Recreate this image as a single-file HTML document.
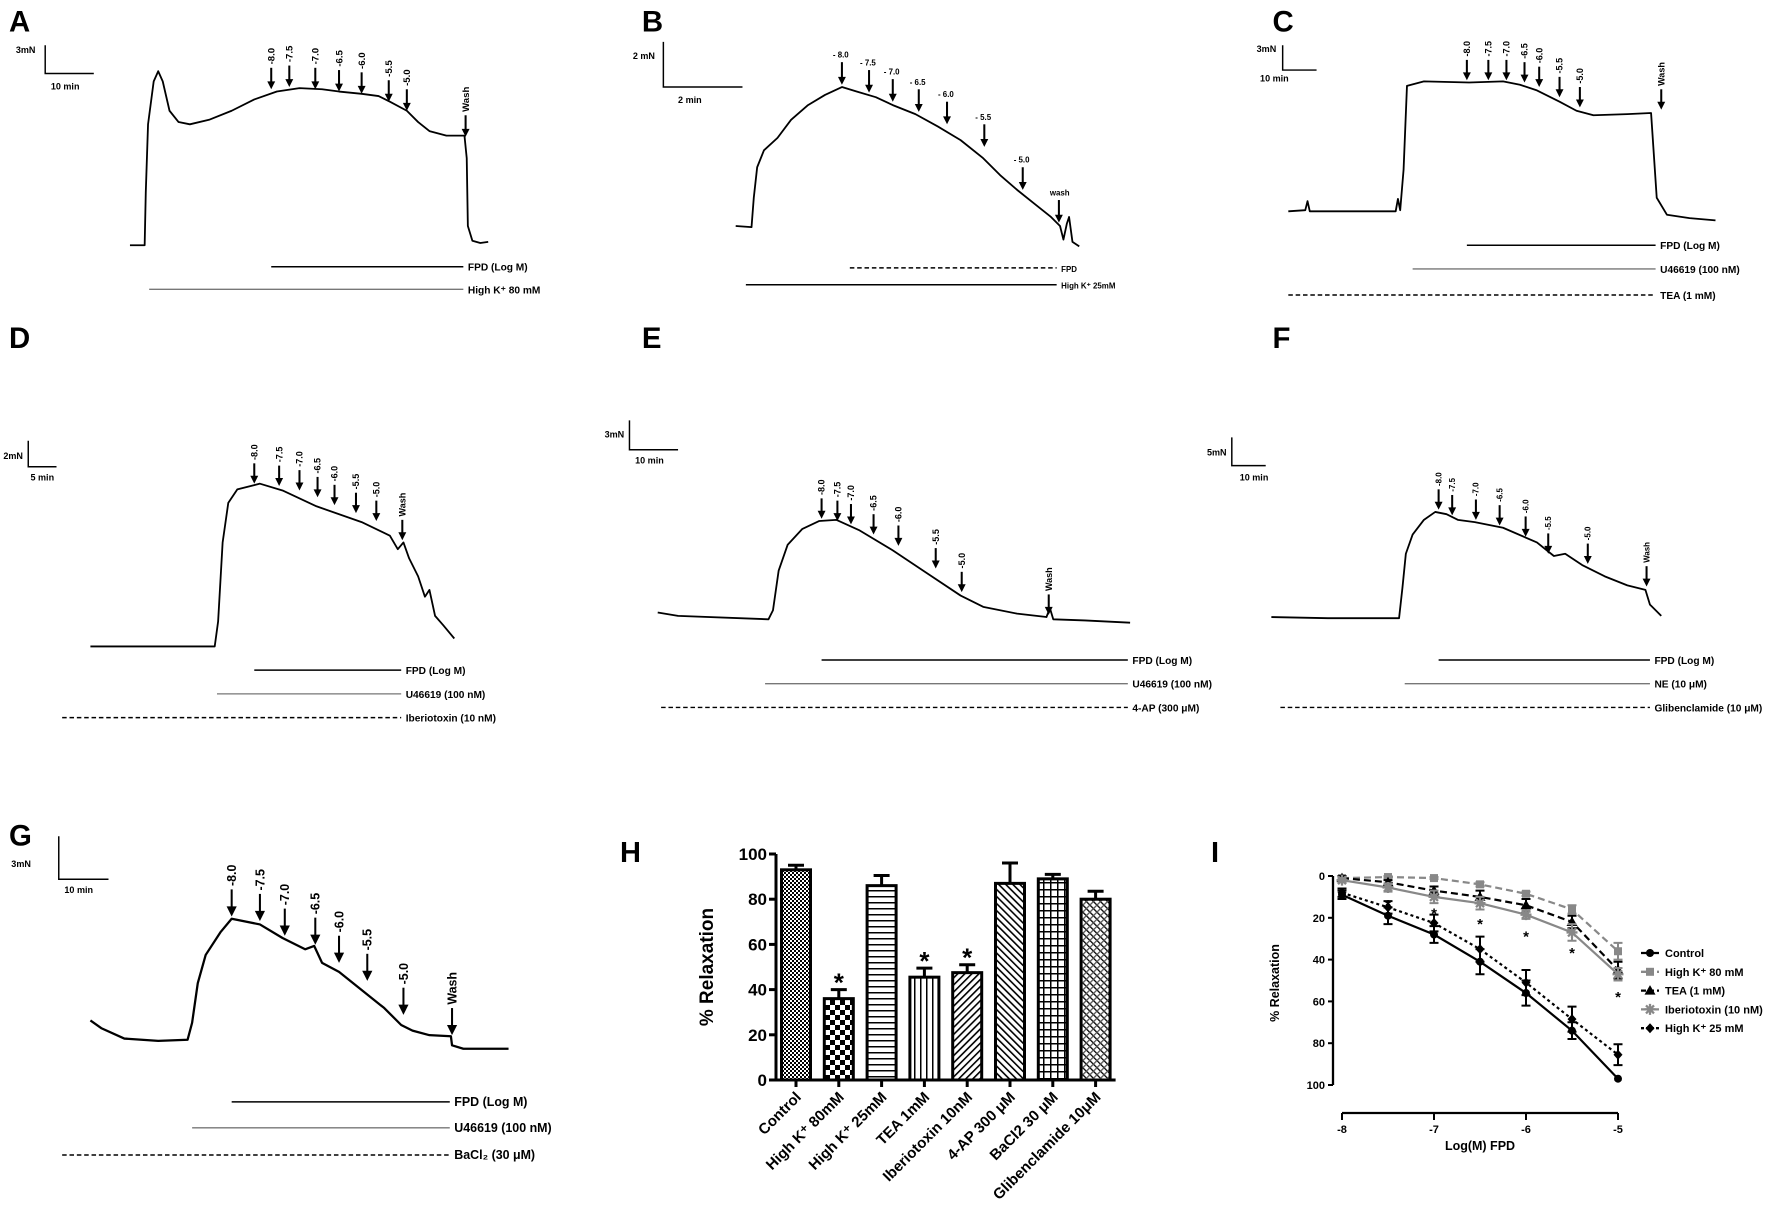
<!DOCTYPE html>
<html><head><meta charset="utf-8"><style>
html,body{margin:0;padding:0;background:#fff;}
svg{display:block;font-family:"Liberation Sans",Arial,sans-serif;font-weight:bold;}
</style></head><body>
<svg id="fig" width="1772" height="1220" viewBox="0 0 1772 1220" xmlns="http://www.w3.org/2000/svg">
<defs>
<pattern id="pCtrl" width="4" height="4" patternUnits="userSpaceOnUse"><rect width="4" height="4" fill="#fff"/><rect width="2" height="2" fill="#000"/><rect x="2" y="2" width="2" height="2" fill="#000"/></pattern>
<pattern id="pK80" width="10" height="10" patternUnits="userSpaceOnUse"><rect width="10" height="10" fill="#fff"/><rect width="5" height="5" fill="#000"/><rect x="5" y="5" width="5" height="5" fill="#000"/></pattern>
<pattern id="pK25" width="6" height="6" patternUnits="userSpaceOnUse"><rect width="6" height="6" fill="#fff"/><rect y="2" width="6" height="1.5" fill="#000"/></pattern>
<pattern id="pTEA" width="6" height="6" patternUnits="userSpaceOnUse"><rect width="6" height="6" fill="#fff"/><rect x="2" width="1.5" height="6" fill="#000"/></pattern>
<pattern id="pIbt" width="5" height="5" patternUnits="userSpaceOnUse" patternTransform="rotate(45)"><rect width="5" height="5" fill="#fff"/><rect width="1.6" height="5" fill="#000"/></pattern>
<pattern id="pAP" width="5" height="5" patternUnits="userSpaceOnUse" patternTransform="rotate(-45)"><rect width="5" height="5" fill="#fff"/><rect width="1.6" height="5" fill="#000"/></pattern>
<pattern id="pBa" width="7" height="7" patternUnits="userSpaceOnUse"><rect width="7" height="7" fill="#fff"/><rect width="1.5" height="7" fill="#000"/><rect width="7" height="1.5" fill="#000"/></pattern>
<pattern id="pGli" width="5" height="5" patternUnits="userSpaceOnUse" patternTransform="rotate(-45)"><rect width="5" height="5" fill="#fff"/><rect width="1.3" height="5" fill="#000"/><rect width="5" height="1.3" fill="#555"/></pattern>
</defs>
<g id="traces" transform="scale(1.1301)"></g>
<g id="panelH"></g>
<g id="panelI"></g>
</svg>
<script>
const NS="http://www.w3.org/2000/svg";
function mk(parent,tag,attrs,text){const e=document.createElementNS(NS,tag);for(const k in attrs)e.setAttribute(k,attrs[k]);if(text!==undefined)e.textContent=text;parent.appendChild(e);return e;}
const T=document.getElementById('traces');

const panels=[
{id:'A',lab:[8,28],bar:{x:40,y1:40,y2:65,x2:83,v:'3mN',h:'10 min',vx:14,vy:47,hx:45,hy:79},
 trace:[[115,217],[128,217],[129,170],[131,110],[136,72],[140,63],[144,72],[150,98],[158,108],[168,110],[185,106],[205,98],[225,88],[245,81],[265,78],[285,79],[300,81],[320,83],[335,85],[345,90],[360,98],[370,108],[380,116],[395,120],[411,120],[413,140],[414,200],[418,213],[425,215],[432,214]],
 arrows:[[240,79,'-8.0'],[256,77,'-7.5'],[279,79,'-7.0'],[300,81,'-6.5'],[320,83,'-6.0'],[344,90,'-5.5'],[360,98,'-5.0'],[412,121,'Wash']],alen:19,fs:8.5,
 lines:[[240,410,236,'k','FPD (Log M)'],[132,410,256,'g','High K⁺ 80 mM']]},
{id:'B',lab:[568,28],bar:{x:587,y1:37,y2:77,x2:657,v:'2 mN',h:'2 min',vx:560,vy:52,hx:600,hy:91},
 trace:[[651,200],[665,201],[667,175],[670,148],[676,133],[688,122],[700,106],[715,93],[730,84],[745,77],[758,81],[775,86],[790,93],[810,101],[830,112],[850,124],[870,140],[885,155],[900,168],[915,180],[930,192],[938,200],[941,212],[944,198],[946,192],[949,214],[955,218]],
 arrows:[[745,75,'- 8.0'],[769,82,'- 7.5'],[790,90,'- 7.0'],[813,99,'- 6.5'],[838,110,'- 6.0'],[871,130,'- 5.5'],[905,168,'- 5.0'],[937,197,'wash']],alen:20,fs:7,horiz:true,
 lines:[[752,935,237,'d','FPD'],[660,935,252,'k','High K⁺ 25mM']]},
{id:'C',lab:[1126,28],bar:{x:1135,y1:40,y2:62,x2:1165,v:'3mN',h:'10 min',vx:1112,vy:46,hx:1115,hy:72},
 trace:[[1140,187],[1155,186],[1157,178],[1159,187],[1235,187],[1237,176],[1239,186],[1242,150],[1245,76],[1260,72],[1300,73],[1330,72],[1345,75],[1360,80],[1380,90],[1395,98],[1410,102],[1440,101],[1461,100],[1463,130],[1466,175],[1475,190],[1495,193],[1518,195]],
 arrows:[[1298,71,'-8.0'],[1317,71,'-7.5'],[1333,71,'-7.0'],[1349,73,'-6.5'],[1362,77,'-6.0'],[1380,86,'-5.5'],[1398,95,'-5.0'],[1470,97,'Wash']],alen:18,fs:8,
 lines:[[1298,1465,217,'k','FPD (Log M)'],[1250,1465,238,'g','U46619 (100 nM)'],[1140,1465,261,'d','TEA (1 mM)']]},
{id:'D',lab:[8,308],bar:{x:25,y1:390,y2:413,x2:50,v:'2mN',h:'5 min',vx:3,vy:406,hx:27,hy:425},
 trace:[[80,572],[190,572],[193,550],[197,480],[202,445],[210,433],[230,428],[250,434],[280,448],[320,462],[345,474],[352,486],[357,480],[362,494],[370,510],[376,528],[380,522],[385,545],[392,553],[402,565]],
 arrows:[[225,428,'-8.0'],[247,430,'-7.5'],[265,434,'-7.0'],[281,440,'-6.5'],[296,447,'-6.0'],[315,454,'-5.5'],[333,461,'-5.0'],[356,478,'Wash']],alen:18,fs:8,
 lines:[[225,355,593,'k','FPD (Log M)'],[192,355,614,'g','U46619 (100 nM)'],[55,355,635,'d','Iberiotoxin (10 nM)']]},
{id:'E',lab:[568,308],bar:{x:557,y1:372,y2:398,x2:600,v:'3mN',h:'10 min',vx:535,vy:387,hx:562,hy:410},
 trace:[[582,542],[600,545],[680,548],[684,540],[689,505],[697,482],[710,468],[725,461],[740,460],[760,469],[790,487],[820,507],[850,527],[870,537],[900,543],[926,546],[929,538],[932,548],[960,549],[1000,551]],
 arrows:[[727,459,'-8.0'],[741,461,'-7.5'],[753,464,'-7.0'],[773,473,'-6.5'],[795,483,'-6.0'],[828,503,'-5.5'],[851,524,'-5.0'],[928,544,'Wash']],alen:18,fs:8,
 lines:[[727,998,584,'k','FPD (Log M)'],[677,998,605,'g','U46619 (100 nM)'],[585,998,626,'d','4-AP (300 μM)']]},
{id:'F',lab:[1126,308],bar:{x:1090,y1:387,y2:412,x2:1120,v:'5mN',h:'10 min',vx:1068,vy:403,hx:1097,hy:425},
 trace:[[1125,546],[1175,547],[1238,547],[1241,520],[1244,490],[1250,473],[1260,460],[1270,453],[1280,455],[1290,460],[1305,462],[1330,467],[1360,480],[1375,492],[1385,490],[1400,500],[1420,510],[1440,518],[1456,522],[1460,535],[1470,545]],
 arrows:[[1273,451,'-8.0'],[1285,456,'-7.5'],[1306,460,'-7.0'],[1327,465,'-6.5'],[1350,475,'-6.0'],[1370,490,'-5.5'],[1405,499,'-5.0'],[1457,519,'Wash']],alen:18,fs:7,
 lines:[[1273,1460,584,'k','FPD (Log M)'],[1243,1460,605,'g','NE (10 μM)'],[1133,1460,626,'d','Glibenclamide (10 μM)']]},
{id:'G',lab:[8,748],bar:{x:52,y1:740,y2:778,x2:96,v:'3mN',h:'10 min',vx:10,vy:767,hx:57,hy:790},
 trace:[[80,903],[90,910],[110,919],[140,921],[166,920],[170,905],[175,870],[182,845],[195,825],[205,813],[230,818],[250,830],[270,840],[278,837],[285,852],[300,860],[320,876],[340,892],[355,907],[365,912],[380,916],[399,917],[400,925],[410,928],[450,928]],
 arrows:[[205,811,'-8.0'],[230,815,'-7.5'],[252,828,'-7.0'],[279,836,'-6.5'],[300,852,'-6.0'],[325,868,'-5.5'],[357,898,'-5.0'],[400,916,'Wash']],alen:24,fs:11,
 lines:[[205,398,975,'k','FPD (Log M)'],[170,398,998,'g','U46619 (100 nM)'],[55,398,1022,'d','BaCl₂ (30 μM)']]}
];

panels.forEach(p=>{
  const g=mk(T,'g',{});
  
  
  const L=mk(g,'text',{x:p.lab[0],y:p.lab[1],'font-size':26},p.id);
  
  
  const b=p.bar;
  const sb=mk(g,'path',{d:`M${b.x},${b.y1}V${b.y2}H${b.x2}`,fill:'none',stroke:'#000','stroke-width':1.3});
  
  
  mk(g,'text',{x:b.vx,y:b.vy,'font-size':8},b.v);
  mk(g,'text',{x:b.hx,y:b.hy,'font-size':8},b.h);
  const tr=mk(g,'polyline',{points:p.trace.map(q=>q.join(',')).join(' '),fill:'none',stroke:'#000','stroke-width':p.id==='G'?2:1.6,'stroke-linejoin':'round'});
  
  
  p.arrows.forEach(a=>{
    const [x,tip,lab]=a, top=tip-p.alen;
    const ag=mk(g,'g',{});
    
    
    const hw=p.id==='G'?4.5:3.5, hl=p.id==='G'?9:7;
    mk(ag,'line',{x1:x,y1:top,x2:x,y2:tip-hl+1,stroke:'#000','stroke-width':1.8});
    mk(ag,'path',{d:`M${x-hw},${tip-hl}L${x+hw},${tip-hl}L${x},${tip}Z`,fill:'#000'});
    if(p.horiz){
      mk(ag,'text',{x:x-8,y:top-4,'font-size':p.fs},lab);
    }else{
      mk(ag,'text',{x:x+p.fs*0.35,y:top-3,'font-size':p.fs,transform:`rotate(-90 ${x+p.fs*0.35} ${top-3})`},lab);
    }
  });
  p.lines.forEach(l=>{
    const [x1,x2,y,st,lab]=l;
    const lg=mk(g,'g',{});
    
    
    const attrs={x1,x2,y1:y,y2:y,stroke:st==='g'?'#777':'#000','stroke-width':st==='g'?1.2:1.3};
    if(st==='d')attrs['stroke-dasharray']='4,2.5';
    mk(lg,'line',attrs);
    mk(lg,'text',{x:x2+4,y:y+3.5,'font-size':p.id==='G'?11:(p.id==='B'?7:9)},lab);
  });
});

// ---------- Panel H ----------
const hCategories=['Control','High K⁺ 80mM','High K⁺ 25mM','TEA 1mM','Iberiotoxin 10nM','4-AP 300 μM','BaCl2 30 μM','Glibenclamide 10μM'];
const hValues=[93,36,86,45.5,47.5,87,89,80];
const hErrors=[2,4,4.5,4,3.5,9,2,3.5];
const hSignificant=[false,true,false,true,true,false,false,false];
const hTicks=[0,20,40,60,80,100];
const hFills=['pCtrl','pK80','pK25','pTEA','pIbt','pAP','pBa','pGli'];
const H=document.getElementById('panelH');
const hx0=776,hy0=1080,hy1=854;
const hy=v=>hy0-(v/100)*(hy0-hy1);
const hx=i=>796+i*42.8;
const HL=mk(H,'text',{x:620,y:862,'font-size':29},'H');


const hya=mk(H,'line',{x1:hx0,x2:hx0,y1:hy(0),y2:hy(100),stroke:'#000','stroke-width':3});


hTicks.forEach(t=>{
  mk(H,'line',{x1:hx0-7,x2:hx0,y1:hy(t),y2:hy(t),stroke:'#000','stroke-width':3});
  const tl=mk(H,'text',{x:hx0-9,y:hy(t)+6,'font-size':17,'text-anchor':'end'},t);
  
  
});
const hxa=mk(H,'line',{x1:hx0,x2:hx(7)+20,y1:hy(0),y2:hy(0),stroke:'#000','stroke-width':3});


const hyt=mk(H,'text',{x:0,y:0,'font-size':19,'text-anchor':'middle',transform:`translate(713,967) rotate(-90)`},'% Relaxation');


hCategories.forEach((c,i)=>{
  const cx=hx(i),w=29,v=hValues[i],e=hErrors[i];
  const bar=mk(H,'rect',{x:cx-w/2,y:hy(v),width:w,height:hy(0)-hy(v),fill:`url(#${hFills[i]})`,stroke:'#000','stroke-width':3});
  
  
  const eb=mk(H,'path',{d:`M${cx},${hy(v)}V${hy(v+e)}M${cx-8},${hy(v+e)}H${cx+8}`,stroke:'#000','stroke-width':3,fill:'none'});
  
  
  mk(H,'line',{x1:cx,x2:cx,y1:hy(0),y2:hy(0)+7,stroke:'#000','stroke-width':3});
  const lb=mk(H,'text',{x:0,y:0,'font-size':15,'text-anchor':'end',transform:`translate(${cx+6},${hy(0)+18}) rotate(-45)`},c);
  
  
  if(hSignificant[i]){
    const s=mk(H,'text',{x:cx,y:hy(v+e)+2,'font-size':26,'text-anchor':'middle'},'*');
    
    
  }
});

// ---------- Panel I ----------
const iDoses=[-8,-7.5,-7,-6.5,-6,-5.5,-5];
const iControl=[9,19,28,41,56,74,97];
const iControlErr=[2,4,4,6,6,4,0];
const iK80=[1,0.5,1,4,8.5,16,36];
const iK80Err=[0.5,0.5,0.5,1,1,2,4];
const iTEA=[1,3,7,10,14,22,45];
const iTEAErr=[1,1,2,3,3,3,4];
const iIbtx=[2,5.5,10,13,18.5,27,47];
const iIbtxErr=[1,2,3,3,2,4,3];
const iK25=[8,15,22.5,35,51,68.5,85.5];
const iK25Err=[2,3,4,6,6,6,5];
const iStarDoses=[-7.5,-7,-6.5,-6,-5.5,-5];
const iStarLevels=[12,16,21,27,35,56];
const iYTicks=[0,20,40,60,80,100];
const iXTicks=[-8,-7,-6,-5];
const I=document.getElementById('panelI');
const ix=d=>1342+(d+8)*(276/3);
const iy=p=>876+p*2.09;
const IL=mk(I,'text',{x:1211,y:862,'font-size':29},'I');


const iya=mk(I,'line',{x1:1333,x2:1333,y1:iy(0),y2:iy(100),stroke:'#000','stroke-width':2.3});


iYTicks.forEach(t=>{
  mk(I,'line',{x1:1328,x2:1333,y1:iy(t),y2:iy(t),stroke:'#000','stroke-width':2});
  const tl=mk(I,'text',{x:1325,y:iy(t)+4,'font-size':11,'text-anchor':'end'},t);
  
  
});
const ixa=mk(I,'line',{x1:ix(-8),x2:ix(-5),y1:1113,y2:1113,stroke:'#000','stroke-width':2.3});


iXTicks.forEach(t=>{
  mk(I,'line',{x1:ix(t),x2:ix(t),y1:1113,y2:1120,stroke:'#000','stroke-width':2});
  const tl=mk(I,'text',{x:ix(t),y:1133,'font-size':11,'text-anchor':'middle'},t);
  
  
});
const ixt=mk(I,'text',{x:1480,y:1150,'font-size':12.5,'text-anchor':'middle'},'Log(M) FPD');


const iyt=mk(I,'text',{x:0,y:0,'font-size':12.5,'text-anchor':'middle',transform:'translate(1279,983) rotate(-90)'},'% Relaxation');



function marker(g,type,x,y,col){
  if(type==='circle')mk(g,'circle',{cx:x,cy:y,r:4,fill:col});
  else if(type==='square')mk(g,'rect',{x:x-4,y:y-4,width:8,height:8,fill:col});
  else if(type==='triangle')mk(g,'path',{d:`M${x},${y-5.5}L${x+5.5},${y+4}L${x-5.5},${y+4}Z`,fill:col});
  else if(type==='diamond')mk(g,'path',{d:`M${x},${y-5}L${x+4.5},${y}L${x},${y+5}L${x-4.5},${y}Z`,fill:col});
  else if(type==='star'){mk(g,'path',{d:`M${x-5.5},${y}H${x+5.5}M${x},${y-5.5}V${y+5.5}M${x-4},${y-4}L${x+4},${y+4}M${x+4},${y-4}L${x-4},${y+4}`,stroke:col,'stroke-width':2.3});}
}
const iSeries=[
 {name:'Control',vals:iControl,err:iControlErr,col:'#000',dash:'',m:'circle',key:'control'},
 {name:'High K⁺ 80 mM',vals:iK80,err:iK80Err,col:'#888',dash:'7,4',m:'square',key:'high-k-80'},
 {name:'TEA (1 mM)',vals:iTEA,err:iTEAErr,col:'#000',dash:'7,4',m:'triangle',key:'tea'},
 {name:'Iberiotoxin (10 nM)',vals:iIbtx,err:iIbtxErr,col:'#888',dash:'',m:'star',key:'iberiotoxin'},
 {name:'High K⁺ 25 mM',vals:iK25,err:iK25Err,col:'#000',dash:'3,3',m:'diamond',key:'high-k-25'}
];
iSeries.forEach((s,si)=>{
  const g=mk(I,'g',{});
  
  
  const pl=mk(g,'polyline',{points:iDoses.map((d,k)=>ix(d)+','+iy(s.vals[k])).join(' '),fill:'none',stroke:s.col,'stroke-width':2.2});
  if(s.dash)pl.setAttribute('stroke-dasharray',s.dash);
  iDoses.forEach((d,k)=>{
    const x=ix(d),y1=iy(s.vals[k]-s.err[k]),y2=iy(s.vals[k]+s.err[k]);
    if(s.err[k]>0)mk(g,'path',{d:`M${x},${y1}V${y2}M${x-4.5},${y1}H${x+4.5}M${x-4.5},${y2}H${x+4.5}`,stroke:s.col,'stroke-width':2,fill:'none'});
    marker(g,s.m,x,iy(s.vals[k]),s.col);
  });
  const ly=953+si*18.8;
  const lg=mk(I,'g',{});
  
  
  const ll=mk(lg,'line',{x1:1641,x2:1659,y1:ly,y2:ly,stroke:s.col,'stroke-width':2.3});
  if(s.dash)ll.setAttribute('stroke-dasharray',s.dash==='7,4'?'5,3':'3,2');
  marker(lg,s.m,1650,ly,s.col);
  mk(lg,'text',{x:1665,y:ly+4,'font-size':11},s.name);
});
iStarDoses.forEach((d,k)=>{
  const s=mk(I,'text',{x:ix(d),y:iy(iStarLevels[k])+9,'font-size':15,'text-anchor':'middle'},'*');
  
  
});
</script>
</body></html>
